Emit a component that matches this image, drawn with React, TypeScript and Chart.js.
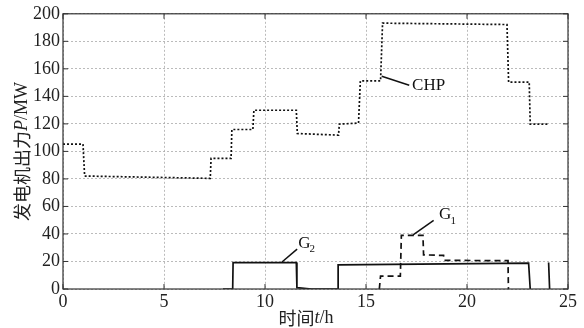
import React, { useEffect, useRef } from "react";
import { Chart, registerables } from "chart.js";
Chart.register(...registerables);

// CHP unit output (t in h, P in MW)
const CHP_T = [0, 0.99, 1.07, 7.29, 7.33, 8.32, 8.36, 9.4, 9.45, 11.55, 11.6, 13.64, 13.68, 14.63, 14.72, 15.72, 15.82, 21.98, 22.06, 23.08, 23.13, 24.04];
const CHP_P = [105.3, 105.3, 82.1, 80.4, 94.9, 94.9, 115.9, 115.9, 129.9, 129.9, 113, 111.8, 119.8, 120.6, 151.2, 151.2, 193.2, 192.2, 150.4, 150.4, 119.8, 119.8];

// G1 output
const G1_T = [15.66, 15.72, 16.7, 16.75, 17.82, 17.85, 18.84, 18.87, 21.98, 22.03, 22.05];
const G1_P = [0, 9.4, 9.4, 39.0, 39.0, 24.8, 24.4, 20.8, 20.6, 20.6, 0];

// G2 output (null = break in line)
const G2_T = [7.92, 8.4, 8.42, 11.55, 11.58, 12.3, 13.64, 13.62, 23.05, 23.13, 24.0, 24.04, 24.09];
const G2_P = [0, 0, 19.2, 19.2, 1.0, 0, 0, 17.6, 18.8, 0, null, 19.3, 0];

// Axis ticks
const X_TICKS = [0, 5, 10, 15, 20, 25];
const Y_TICKS = [0, 20, 40, 60, 80, 100, 120, 140, 160, 180, 200];

// Curve labels with leader lines (data coordinates)
const LABEL_TEXT = ["CHP", "G", "G"];
const LABEL_SUB = ["", "1", "2"];
const LEADER_T0 = [15.78, 17.33, 10.84];
const LEADER_P0 = [154.6, 39.3, 19.6];
const LEADER_T1 = [17.14, 18.35, 11.59];
const LEADER_P1 = [148.1, 49.9, 29.0];
const LABEL_T = [17.28, 18.62, 11.64];
const LABEL_P = [148, 54, 33.3];

const SERIF = "'Liberation Serif', 'Times New Roman', serif";
const CJK = "'Noto Sans CJK SC', 'Liberation Serif', serif";

const pts = (ts: number[], ps: (number | null)[]) => ts.map((t, i) => ({ x: t, y: ps[i] }));

const decor = {
  id: "decor",
  afterDraw(chart: any) {
    const { ctx, chartArea: a, scales } = chart;
    const xs = scales.x, ys = scales.y;
    ctx.save();
    // box
    ctx.strokeStyle = "#333";
    ctx.lineWidth = 1.2;
    ctx.setLineDash([]);
    ctx.strokeRect(a.left, a.top, a.right - a.left, a.bottom - a.top);
    // inward ticks
    ctx.lineWidth = 1;
    ctx.beginPath();
    X_TICKS.forEach((v) => {
      const px = xs.getPixelForValue(v);
      ctx.moveTo(px, a.bottom); ctx.lineTo(px, a.bottom - 5);
      ctx.moveTo(px, a.top); ctx.lineTo(px, a.top + 5);
    });
    Y_TICKS.forEach((v) => {
      const py = ys.getPixelForValue(v);
      ctx.moveTo(a.left, py); ctx.lineTo(a.left + 5, py);
      ctx.moveTo(a.right, py); ctx.lineTo(a.right - 5, py);
    });
    ctx.stroke();

    // leader lines + labels
    ctx.strokeStyle = "#111";
    ctx.lineWidth = 1.5;
    ctx.fillStyle = "#111";
    ctx.textBaseline = "middle";
    ctx.textAlign = "left";
    LABEL_TEXT.forEach((txt, i) => {
      ctx.beginPath();
      ctx.moveTo(xs.getPixelForValue(LEADER_T0[i]), ys.getPixelForValue(LEADER_P0[i]));
      ctx.lineTo(xs.getPixelForValue(LEADER_T1[i]), ys.getPixelForValue(LEADER_P1[i]));
      ctx.stroke();
      const lx = xs.getPixelForValue(LABEL_T[i]);
      const ly = ys.getPixelForValue(LABEL_P[i]);
      ctx.font = `17px ${SERIF}`;
      ctx.fillText(txt, lx, ly);
      if (LABEL_SUB[i]) {
        const w = ctx.measureText(txt).width;
        ctx.font = `11px ${SERIF}`;
        ctx.fillText(LABEL_SUB[i], lx + w - 1, ly + 6);
      }
    });

    // axis titles with mixed fonts
    const drawParts = (parts: [string, string][], cx: number, cy: number, rot: number) => {
      ctx.save();
      ctx.translate(cx, cy);
      ctx.rotate(rot);
      let total = 0;
      parts.forEach(([t, f]) => { ctx.font = f; total += ctx.measureText(t).width; });
      let x = -total / 2;
      ctx.textAlign = "left";
      ctx.textBaseline = "middle";
      ctx.fillStyle = "#222";
      parts.forEach(([t, f]) => { ctx.font = f; ctx.fillText(t, x, 0); x += ctx.measureText(t).width; });
      ctx.restore();
    };
    drawParts([["发电机出力", `18px ${CJK}`], ["P", `italic 18px ${SERIF}`], ["/MW", `18px ${SERIF}`]], 22, (a.top + a.bottom) / 2, -Math.PI / 2);
    drawParts([["时间", `18px ${CJK}`], ["t", `italic 18px ${SERIF}`], ["/h", `18px ${SERIF}`]], 306, 318, 0);
    ctx.restore();
  },
};

export default function App() {
  const ref = useRef<HTMLCanvasElement | null>(null);
  useEffect(() => {
    if (!ref.current) return;
    const chart = new Chart(ref.current, {
      type: "line",
      data: {
        datasets: [
          { label: "CHP", data: pts(CHP_T, CHP_P), borderColor: "#111", borderWidth: 1.7, borderDash: [2, 2], pointRadius: 0, fill: false, tension: 0 },
          { label: "G1", data: pts(G1_T, G1_P), borderColor: "#111", borderWidth: 1.7, borderDash: [6, 4], pointRadius: 0, fill: false, tension: 0 },
          { label: "G2", data: pts(G2_T, G2_P), borderColor: "#111", borderWidth: 1.7, pointRadius: 0, fill: false, tension: 0, spanGaps: false },
        ],
      },
      options: {
        responsive: false,
        animation: false,
        parsing: false as any,
        layout: { padding: { left: 0, top: 13, right: 16, bottom: 0 } },
        plugins: { legend: { display: false }, tooltip: { enabled: false } },
        scales: {
          x: {
            type: "linear",
            min: 0,
            max: 25,
            afterBuildTicks: (s: any) => { s.ticks = X_TICKS.map((v) => ({ value: v })); },
            afterFit: (s: any) => { s.height = 39; },
            ticks: { color: "#222", font: { family: SERIF, size: 18 }, padding: 2, maxRotation: 0 },
            grid: { color: "#aaa", lineWidth: 0.8, drawTicks: false },
            border: { display: false, dash: [2, 2] },
          },
          y: {
            type: "linear",
            min: 0,
            max: 200,
            afterBuildTicks: (s: any) => { s.ticks = Y_TICKS.map((v) => ({ value: v })); },
            afterFit: (s: any) => { s.width = 63; },
            ticks: { color: "#222", font: { family: SERIF, size: 18 }, padding: 3 },
            grid: { color: "#aaa", lineWidth: 0.8, drawTicks: false },
            border: { display: false, dash: [2, 2] },
          },
        },
      },
      plugins: [decor],
    });
    return () => chart.destroy();
  }, []);
  return (
    <div style={{ position: "absolute", left: 0, top: 0, width: 584, height: 328, background: "#fff" }}>
      <canvas ref={ref} width={584} height={328} style={{ display: "block" }} />
    </div>
  );
}
